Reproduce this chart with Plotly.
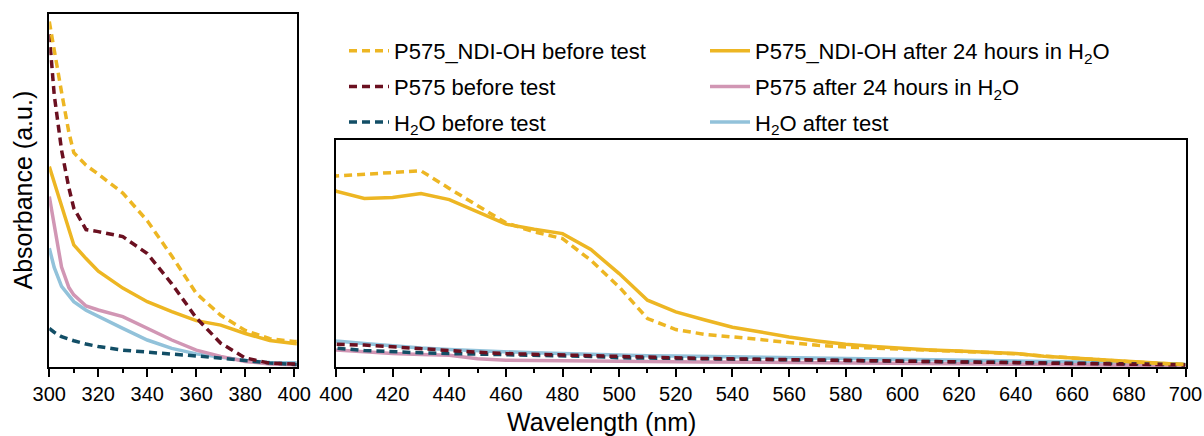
import plotly.graph_objects as go

# ---------------- data ----------------
wavelength = [300, 302, 305, 308, 310, 315, 320, 330, 340, 350, 360, 370, 380, 390, 400,
              410, 420, 430, 440, 450, 460, 470, 480, 490, 500, 510, 520, 530, 540, 550,
              560, 570, 580, 590, 600, 610, 620, 630, 640, 650, 660, 670, 680, 690, 700]

ndi_before = [13.7, 12.5, 10.9, 9.3, 8.5, 8.0, 7.65, 6.9, 5.8, 4.4, 2.92, 2.05, 1.45, 1.12, 1.01,
              1.018, 1.026, 1.037, 0.944, 0.855, 0.762, 0.714, 0.679, 0.564, 0.423, 0.256, 0.198, 0.173, 0.16, 0.145,
              0.129, 0.115, 0.106, 0.099, 0.093, 0.088, 0.083, 0.077, 0.070, 0.058, 0.047, 0.037, 0.028, 0.020, 0.014]

ndi_after = [7.95, 7.33, 6.4, 5.46, 4.84, 4.3, 3.8, 3.13, 2.59, 2.2, 1.84, 1.66, 1.33, 1.05, 0.93,
             0.891, 0.896, 0.917, 0.885, 0.82, 0.755, 0.728, 0.705, 0.621, 0.494, 0.353, 0.291, 0.25, 0.21, 0.185,
             0.159, 0.138, 0.12, 0.108, 0.098, 0.09, 0.084, 0.078, 0.071, 0.057, 0.048, 0.038, 0.027, 0.018, 0.012]

p575_before = [13.2, 10.8, 8.6, 7.1, 6.3, 5.45, 5.37, 5.17, 4.5, 3.3, 1.95, 0.94, 0.36, 0.15, 0.12,
               0.116, 0.106, 0.095, 0.085, 0.078, 0.071, 0.067, 0.063, 0.058, 0.053, 0.050, 0.047, 0.045, 0.043, 0.041,
               0.039, 0.037, 0.035, 0.033, 0.031, 0.029, 0.027, 0.025, 0.023, 0.021, 0.019, 0.017, 0.015, 0.013, 0.011]

p575_after = [6.76, 5.6, 3.96, 3.15, 2.86, 2.42, 2.26, 2.0, 1.53, 1.07, 0.67, 0.42, 0.22, 0.12, 0.09,
              0.08, 0.071, 0.066, 0.062, 0.044, 0.036, 0.034, 0.032, 0.032, 0.031, 0.030, 0.028, 0.027, 0.026, 0.025,
              0.024, 0.023, 0.022, 0.021, 0.020, 0.018, 0.016, 0.015, 0.013, 0.012, 0.011, 0.010, 0.009, 0.008, 0.007]

h2o_before = [1.53, 1.38, 1.2, 1.09, 1.04, 0.91, 0.81, 0.67, 0.58, 0.51, 0.44, 0.34, 0.24, 0.16, 0.10,
              0.087, 0.079, 0.075, 0.071, 0.068, 0.065, 0.063, 0.062, 0.056, 0.049, 0.047, 0.045, 0.044, 0.043, 0.040,
              0.036, 0.034, 0.032, 0.031, 0.030, 0.028, 0.026, 0.024, 0.022, 0.021, 0.020, 0.019, 0.018, 0.015, 0.012]

h2o_after = [4.71, 3.95, 3.2, 2.8, 2.59, 2.25, 2.0, 1.53, 1.07, 0.74, 0.52, 0.38, 0.26, 0.18, 0.138,
             0.124, 0.111, 0.100, 0.092, 0.085, 0.079, 0.075, 0.071, 0.066, 0.062, 0.060, 0.058, 0.056, 0.055, 0.053,
             0.051, 0.049, 0.046, 0.044, 0.041, 0.039, 0.037, 0.035, 0.033, 0.031, 0.028, 0.025, 0.022, 0.018, 0.014]

left_ticks = [300, 320, 340, 360, 380, 400]
right_ticks = [400, 420, 440, 460, 480, 500, 520, 540, 560, 580, 600, 620, 640, 660, 680, 700]

# ---------------- styling ----------------
FONT = "Liberation Sans, Arial, sans-serif"
W, H = 1204, 436
C_GOLD = "#EDB623"
C_RED = "#6B1020"
C_PINK = "#D196B4"
C_TEAL = "#124E66"
C_BLUE = "#92C2DA"
DASH = "8px,5px"

series = [
    # (name, values, color, dash, legend)
    ("H<sub>2</sub>O after test", h2o_after, C_BLUE, "solid", "legend2"),
    ("P575 after 24 hours in H<sub>2</sub>O", p575_after, C_PINK, "solid", "legend2"),
    ("P575_NDI-OH after 24 hours in H<sub>2</sub>O", ndi_after, C_GOLD, "solid", "legend2"),
    ("H<sub>2</sub>O before test", h2o_before, C_TEAL, DASH, "legend"),
    ("P575 before test", p575_before, C_RED, DASH, "legend"),
    ("P575_NDI-OH before test", ndi_before, C_GOLD, DASH, "legend"),
]
legend_rank = {
    "P575_NDI-OH before test": 1, "P575 before test": 2, "H<sub>2</sub>O before test": 3,
    "P575_NDI-OH after 24 hours in H<sub>2</sub>O": 1, "P575 after 24 hours in H<sub>2</sub>O": 2,
    "H<sub>2</sub>O after test": 3,
}

fig = go.Figure()
for name, vals, color, dash, leg in series:
    for xa, ya, show in (("x", "y", True), ("x2", "y2", False)):
        fig.add_trace(go.Scatter(
            x=wavelength, y=vals, mode="lines", name=name,
            line=dict(color=color, width=3.5, dash=dash),
            xaxis=xa, yaxis=ya, showlegend=show, legend=leg,
            legendgroup=name, legendrank=legend_rank[name],
            cliponaxis=True,
        ))

def px(x):
    return x / W

def py(y):
    return 1 - y / H

axis_common = dict(showline=True, linewidth=2, linecolor="black", mirror=True,
                   showgrid=False, zeroline=False, automargin=False)

fig.update_layout(
    width=W, height=H,
    margin=dict(l=0, r=0, t=0, b=0),
    paper_bgcolor="white", plot_bgcolor="white",
    font=dict(family=FONT, size=20, color="black"),
    xaxis=dict(domain=[px(49.3), px(296.7)], range=[300, 401], tickvals=left_ticks,
               ticks="outside", ticklen=8, tickwidth=2, tickcolor="black",
               minor=dict(dtick=10, tick0=300, ticks="outside", ticklen=4, tickwidth=2, tickcolor="black"),
               tickfont=dict(size=20), anchor="y", **axis_common),
    yaxis=dict(domain=[py(367), py(14)], range=[0, 14.0], showticklabels=False, ticks="",
               anchor="x", **axis_common),
    xaxis2=dict(domain=[px(336), px(1185.5)], range=[400, 700], tickvals=right_ticks,
                ticks="outside", ticklen=8, tickwidth=2, tickcolor="black",
                minor=dict(dtick=10, tick0=400, ticks="outside", ticklen=4, tickwidth=2, tickcolor="black"),
                tickfont=dict(size=20), anchor="y2", **axis_common),
    yaxis2=dict(domain=[py(367), py(140)], range=[0, 1.2], showticklabels=False, ticks="",
                anchor="x2", **axis_common),
    legend=dict(x=px(344), y=py(30), xanchor="left", yanchor="top",
                font=dict(size=22, family=FONT), bgcolor="rgba(0,0,0,0)",
                tracegroupgap=4, itemwidth=40, traceorder="grouped"),
    legend2=dict(x=px(705), y=py(30), xanchor="left", yanchor="top",
                 font=dict(size=22, family=FONT), bgcolor="rgba(0,0,0,0)",
                 tracegroupgap=4, itemwidth=40, traceorder="grouped"),
    annotations=[
        dict(text="Wavelength (nm)", x=px(601), y=py(422), xref="paper", yref="paper",
             xanchor="center", yanchor="middle", showarrow=False, font=dict(size=25, family=FONT)),
        dict(text="Absorbance (a.u.)", x=px(22.5), y=py(190), xref="paper", yref="paper",
             xanchor="center", yanchor="middle", textangle=-90, showarrow=False,
             font=dict(size=25, family=FONT)),
    ],
)

fig.write_html("out.html")
